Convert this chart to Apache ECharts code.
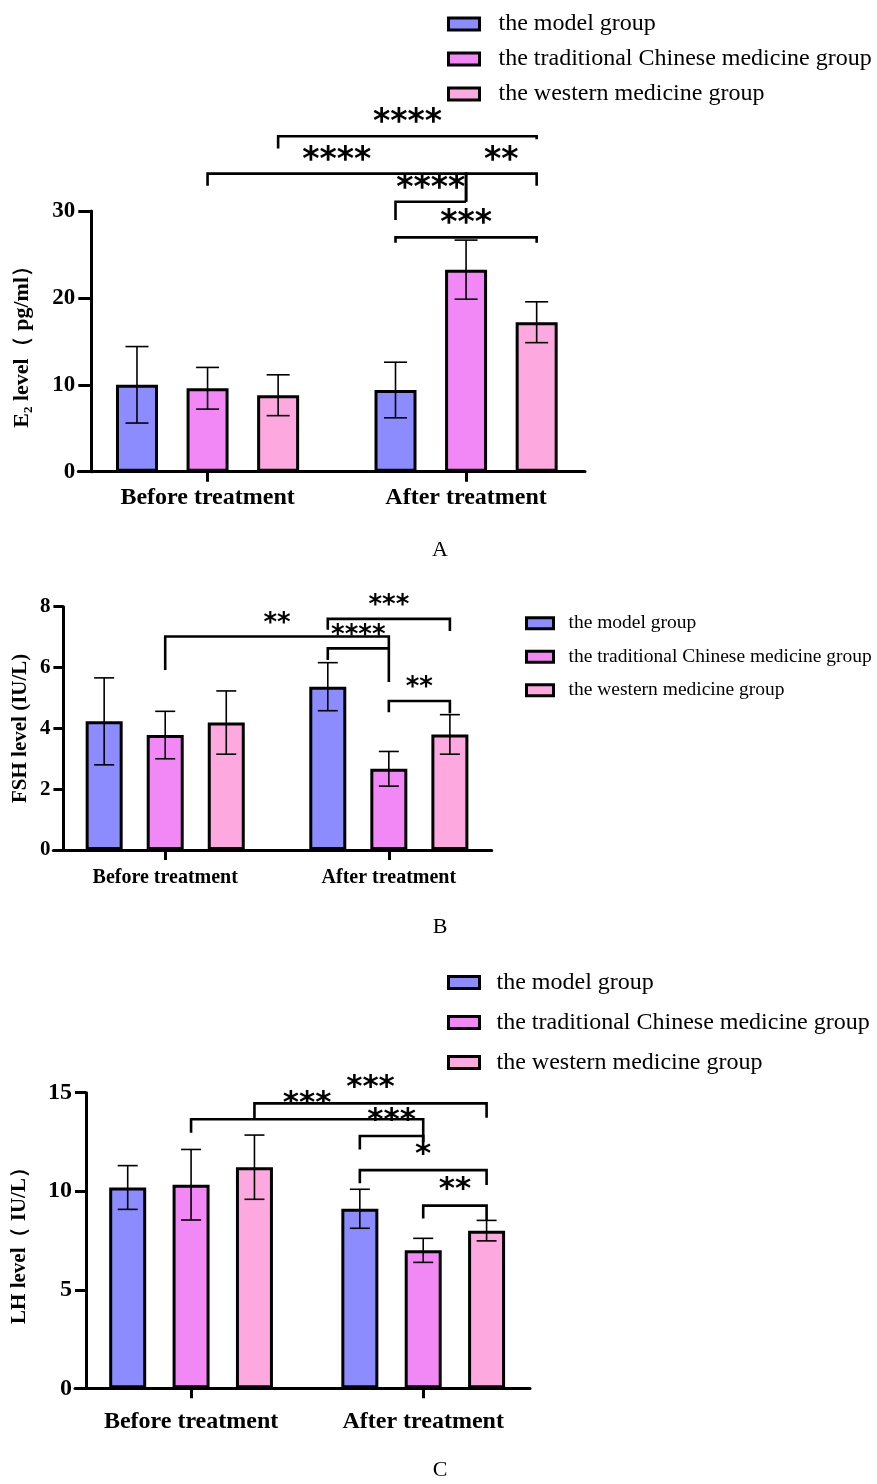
<!DOCTYPE html>
<html><head><meta charset="utf-8">
<script src="https://cdn.jsdelivr.net/npm/echarts@6/dist/echarts.min.js"></script>
<style>html,body{margin:0;padding:0;background:#fff}#c{width:877px;height:1484px}</style>
</head><body><div id="c"></div>
<script>
// ---------- data ----------
const categories = ['Before treatment', 'After treatment'];
const groups = ['the model group', 'the traditional Chinese medicine group', 'the western medicine group'];

// E2 (pg/ml): [before, after] per group
const e2Model = [10.0, 9.4];
const e2Tcm = [9.6, 23.25];
const e2Western = [8.8, 17.2];
const e2ModelSd = [4.4, 3.2];
const e2TcmSd = [2.4, 3.4];
const e2WesternSd = [2.35, 2.35];
const e2Ticks = [0, 30, 10]; // min, max, step
// brackets: [fromCat, fromGroup, toCat, toGroup, level, leftLegEnd, rightLegEnd]
const e2Brackets = [[0, 2, 1, 2, 38.6, 37.2, 38.25], [0, 1, 1, 1, 34.3, 32.9, 31.07], [1, 1, 1, 2, 34.3, 31.07, 32.9], [1, 0, 1, 1, 31.07, 28.96, 31.07], [1, 0, 1, 2, 26.96, 26.35, 26.35]];
const e2Stars = ['****', '****', '**', '****', '***'];

// FSH (IU/L)
const fshModel = [4.23, 5.37];
const fshTcm = [3.78, 2.67];
const fshWestern = [4.19, 3.8];
const fshModelSd = [1.43, 0.79];
const fshTcmSd = [0.78, 0.57];
const fshWesternSd = [1.04, 0.65];
const fshTicks = [0, 8, 2];
const fshBrackets = [[0, 1, 1, 1, 7.02, 5.92, 5.52], [1, 0, 1, 2, 7.6, 7.24, 7.2], [1, 0, 1, 1, 6.63, 6.25, 6.63], [1, 1, 1, 2, 4.9, 4.53, 4.5]];
const fshStars = ['**', '***', '****', '**'];

// LH (IU/L)
const lhModel = [10.19, 9.11];
const lhTcm = [10.33, 7.0];
const lhWestern = [11.22, 8.0];
const lhModelSd = [1.11, 0.99];
const lhTcmSd = [1.79, 0.61];
const lhWesternSd = [1.63, 0.52];
const lhTicks = [0, 15, 5];
const lhBrackets = [[0, 1, 1, 1, 13.65, 12.97, 12.51], [0, 2, 1, 2, 14.46, 13.65, 13.73], [1, 0, 1, 1, 12.8, 12.12, 12.51], [1, 0, 1, 2, 11.07, 10.4, 10.31], [1, 1, 1, 2, 9.27, 8.62, 8.54]];
const lhStars = ['***', '***', '***', '*', '**'];

// ---------- style ----------
const colors = ['#8C8CFF', '#F288F5', '#FDA9E0'];
const OFF = 0.273; // in-group bar offset (category units)
const SERIF = 'Liberation Serif, Times New Roman, serif';
const STARFONT = 'DejaVu Sans';

const panels = [
  { means: [e2Model, e2Tcm, e2Western], sds: [e2ModelSd, e2TcmSd, e2WesternSd], ticks: e2Ticks,
    brackets: e2Brackets, stars: e2Stars,
    grid: { left: 78.3, right: 292, top: 211, bottom: 1012.3 },
    tickLen: 13.4, barW: 42, capW: 23, tickFont: 23, catFont: 24, catMargin: 14,
    name: '{e|E}{s|2}{e| level（ pg/ml）}', nameFont: 22, nameGap: 57,
    starSize: 33, starOff: 12.5 },
  { means: [fshModel, fshTcm, fshWestern], sds: [fshModelSd, fshTcmSd, fshWesternSd], ticks: fshTicks,
    brackets: fshBrackets, stars: fshStars,
    grid: { left: 46.7, right: 385.3, top: 606.7, bottom: 634 },
    tickLen: 10, barW: 37, capW: 20, tickFont: 21, catFont: 20, catMargin: 18,
    name: '{e|FSH level (IU/L)}', nameFont: 21, nameGap: 31,
    starSize: 26, starOff: 12.5 },
  { means: [lhModel, lhTcm, lhWestern], sds: [lhModelSd, lhTcmSd, lhWesternSd], ticks: lhTicks,
    brackets: lhBrackets, stars: lhStars,
    grid: { left: 75, right: 347, top: 1092.7, bottom: 95.7 },
    tickLen: 11, barW: 37, capW: 20, tickFont: 24, catFont: 24, catMargin: 21,
    name: '{e|LH level（ IU/L）}', nameFont: 21, nameGap: 54,
    starSize: 31, starOff: 15.5 }
];

const grids = [], xAxes = [], yAxes = [], series = [];
panels.forEach((p, i) => {
  grids.push(p.grid);
  xAxes.push({
    type: 'value', gridIndex: i, min: -0.5, max: 1.46,
    axisLine: { show: true, onZero: false, lineStyle: { color: '#000', width: 3 } },
    axisTick: { show: true, customValues: [0, 1], length: 10, lineStyle: { color: '#000', width: 3 } },
    axisLabel: { show: true, customValues: [0, 1], formatter: v => categories[Math.round(v)], margin: p.catMargin,
      fontFamily: SERIF, fontWeight: 'bold', fontSize: p.catFont, color: '#000' },
    splitLine: { show: false }
  });
  yAxes.push({
    type: 'value', gridIndex: i, min: p.ticks[0], max: p.ticks[1], interval: p.ticks[2], offset: -p.tickLen,
    axisLine: { show: true, onZero: false, lineStyle: { color: '#000', width: 3 } },
    axisTick: { show: true, length: p.tickLen, lineStyle: { color: '#000', width: 3 } },
    axisLabel: { margin: p.tickLen + 3, fontFamily: SERIF, fontWeight: 'bold', fontSize: p.tickFont, color: '#000' },
    splitLine: { show: false },
    name: p.name, nameLocation: 'middle', nameGap: p.nameGap,
    nameTextStyle: { rich: {
      e: { fontFamily: SERIF, fontWeight: 'bold', fontSize: p.nameFont, color: '#000', verticalAlign: 'middle', lineHeight: 24 },
      s: { fontFamily: SERIF, fontWeight: 'bold', fontSize: 13, color: '#000', verticalAlign: 'bottom', lineHeight: 14 }
    } }
  });
  // bars
  for (let s = 0; s < 3; s++) {
    series.push({
      type: 'bar', name: groups[s], xAxisIndex: i, yAxisIndex: i,
      data: p.means[s].map((v, g) => [g + (s - 1) * OFF, v]),
      barWidth: p.barW, barGap: '-100%',
      itemStyle: { color: colors[s], borderColor: '#000', borderWidth: 3 },
      emphasis: { disabled: true }, z: 2
    });
  }
  // error bars
  const errData = [];
  for (let s = 0; s < 3; s++) p.means[s].forEach((v, g) => errData.push([g + (s - 1) * OFF, v, p.sds[s][g]]));
  const capW = p.capW;
  series.push({
    type: 'custom', xAxisIndex: i, yAxisIndex: i, data: errData, encode: { x: 0, y: 1 }, z: 5, silent: true,
    renderItem(params, api) {
      const x = api.value(0), m = api.value(1), sd = api.value(2);
      const t = api.coord([x, m + sd]), b = api.coord([x, m - sd]);
      const st = { stroke: '#000', lineWidth: 1.6 };
      return { type: 'group', children: [
        { type: 'line', shape: { x1: t[0], y1: t[1], x2: b[0], y2: b[1] }, style: st },
        { type: 'line', shape: { x1: t[0] - capW / 2, y1: t[1], x2: t[0] + capW / 2, y2: t[1] }, style: st },
        { type: 'line', shape: { x1: b[0] - capW / 2, y1: b[1], x2: b[0] + capW / 2, y2: b[1] }, style: st }
      ] };
    }
  });
  // significance brackets
  const brData = p.brackets.map(b => [b[0] + (b[1] - 1) * OFF, b[2] + (b[3] - 1) * OFF, b[4], b[5], b[6]]);
  const stars = p.stars, starSize = p.starSize, starOff = p.starOff;
  series.push({
    type: 'custom', xAxisIndex: i, yAxisIndex: i, data: brData, encode: { x: [0, 1], y: 2 }, clip: false, z: 6, silent: true,
    renderItem(params, api) {
      const x1 = api.value(0), x2 = api.value(1), lv = api.value(2), l1 = api.value(3), l2 = api.value(4);
      const a = api.coord([x1, l1]), b = api.coord([x1, lv]), c = api.coord([x2, lv]), d = api.coord([x2, l2]);
      return { type: 'group', children: [
        { type: 'polyline', shape: { points: [a, b, c, d] }, style: { stroke: '#000', lineWidth: 2.6, fill: null } },
        { type: 'text', x: (b[0] + c[0]) / 2, y: b[1] - starOff,
          style: { text: stars[params.dataIndex], fontFamily: STARFONT, fontWeight: 'bold', fontSize: starSize,
                   fill: '#000', align: 'center', verticalAlign: 'middle' } }
      ] };
    }
  });
});

const legendBase = (left, top, iw, ih, gap, fs, pad) => ({
  orient: 'vertical', left, top, padding: 0, itemWidth: iw, itemHeight: ih, itemGap: gap, icon: 'rect',
  selectedMode: false, data: groups,
  itemStyle: { borderColor: '#000', borderWidth: 3 },
  textStyle: { fontFamily: SERIF, fontSize: fs, lineHeight: fs + 1, color: '#000', padding: [0, 0, 0, pad] }
});

const option = {
  animation: false,
  backgroundColor: '#fff',
  grid: grids, xAxis: xAxes, yAxis: yAxes, series,
  legend: [
    legendBase(447, 11.5, 31, 12, 10, 24, 14),
    legendBase(525, 613, 27, 11, 13, 19.5, 10),
    legendBase(447, 970, 31, 12, 15, 24, 12)
  ],
  graphic: [
    { type: 'text', style: { text: 'A', fontFamily: SERIF, fontSize: 22, fill: '#000', x: 440, y: 550, align: 'center', verticalAlign: 'middle' } },
    { type: 'text', style: { text: 'B', fontFamily: SERIF, fontSize: 22, fill: '#000', x: 440, y: 927, align: 'center', verticalAlign: 'middle' } },
    { type: 'text', style: { text: 'C', fontFamily: SERIF, fontSize: 22, fill: '#000', x: 440, y: 1470, align: 'center', verticalAlign: 'middle' } }
  ]
};
const chart = echarts.init(document.getElementById('c'), null, { renderer: 'canvas' });
chart.setOption(option);
</script></body></html>
